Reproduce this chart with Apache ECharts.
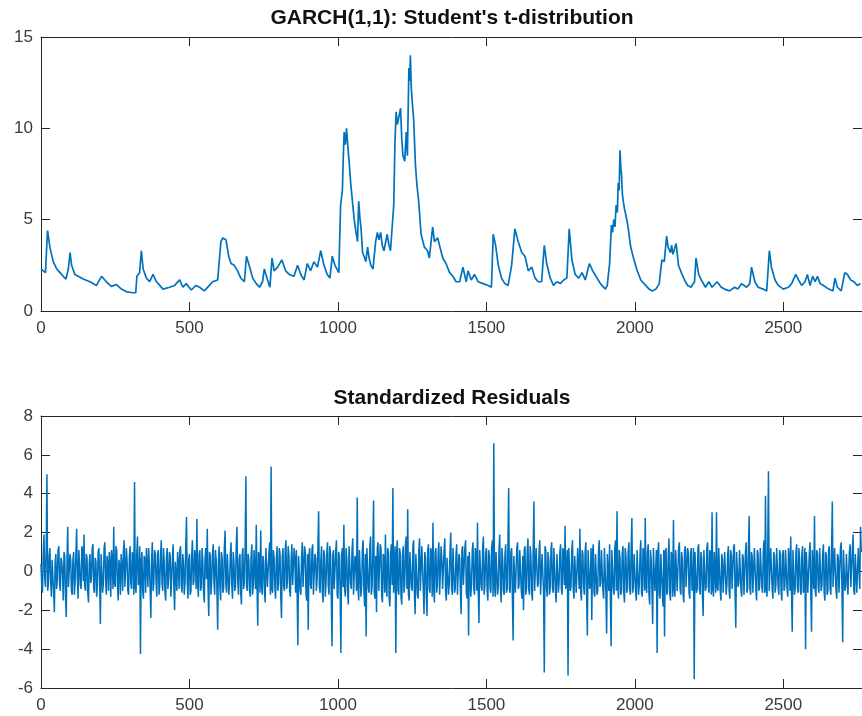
<!DOCTYPE html>
<html>
<head>
<meta charset="utf-8">
<title>GARCH(1,1): Student's t-distribution</title>
<script src="https://cdn.jsdelivr.net/npm/echarts@6/dist/echarts.min.js"></script>
<style>
  html, body { margin: 0; padding: 0; background: #ffffff; }
  #chart { width: 862px; height: 716px; }
</style>
</head>
<body>
<div id="chart"></div>
<script>
// Conditional volatility (sigma_t) of the fitted GARCH(1,1) model, sampled along the observation index
const volIndex = [
  0, 8, 15, 22, 30, 41, 53, 64, 75, 84, 92, 98, 103, 114, 125, 142, 165, 187, 204, 220,
  237, 254, 271, 288, 310, 319, 323, 332, 338, 344, 355, 366, 377, 389, 400, 411, 433, 450, 467, 478,
  489, 506, 522, 534, 550, 567, 578, 595, 606, 612, 623, 632, 640, 651, 662, 673, 685, 692, 701, 713,
  725, 736, 746, 752, 763, 771, 778, 785, 797, 811, 824, 836, 852, 864, 875, 886, 897, 908, 919, 931,
  942, 953, 964, 973, 981, 990, 1003, 1009, 1015, 1018, 1021, 1025, 1029, 1032, 1035, 1039, 1043, 1050, 1055, 1060,
  1066, 1070, 1074, 1078, 1083, 1088, 1094, 1100, 1105, 1111, 1118, 1127, 1133, 1138, 1144, 1149, 1155, 1160, 1166, 1172,
  1177, 1183, 1188, 1192, 1196, 1200, 1205, 1211, 1215, 1219, 1225, 1230, 1234, 1237, 1239, 1242, 1244, 1247, 1250, 1255,
  1261, 1266, 1272, 1280, 1291, 1302, 1308, 1319, 1325, 1336, 1342, 1353, 1364, 1376, 1387, 1398, 1410, 1421, 1432, 1438,
  1449, 1460, 1472, 1489, 1506, 1517, 1523, 1531, 1540, 1551, 1562, 1573, 1585, 1596, 1607, 1619, 1630, 1641, 1653, 1664,
  1675, 1686, 1695, 1703, 1715, 1726, 1737, 1749, 1760, 1771, 1779, 1788, 1799, 1811, 1822, 1833, 1847, 1858, 1869, 1884,
  1901, 1907, 1915, 1921, 1925, 1929, 1933, 1937, 1941, 1944, 1947, 1950, 1953, 1955, 1958, 1961, 1965, 1969, 1974, 1978,
  1986, 1997, 2008, 2020, 2031, 2048, 2059, 2071, 2082, 2091, 2099, 2103, 2107, 2112, 2116, 2120, 2124, 2128, 2133, 2139,
  2147, 2159, 2170, 2178, 2189, 2201, 2206, 2215, 2227, 2238, 2249, 2260, 2277, 2291, 2302, 2319, 2336, 2347, 2359, 2376,
  2387, 2393, 2404, 2415, 2432, 2444, 2453, 2460, 2472, 2483, 2500, 2517, 2528, 2542, 2551, 2562, 2573, 2581, 2590, 2599,
  2607, 2615, 2624, 2635, 2653, 2667, 2674, 2682, 2695, 2707, 2716, 2727, 2738, 2749, 2760
];
const volValue = [
  2.3, 2.2, 2.1, 4.4, 3.5, 2.7, 2.3, 2.1, 1.9, 1.75, 2.3, 3.2, 2.5, 2.0, 1.9, 1.75, 1.6, 1.4, 1.9, 1.6,
  1.35, 1.45, 1.2, 1.05, 1.0, 1.0, 1.9, 2.1, 3.3, 2.3, 1.8, 1.6, 2.0, 1.6, 1.4, 1.2, 1.3, 1.4, 1.7, 1.3,
  1.5, 1.15, 1.4, 1.3, 1.1, 1.4, 1.6, 1.7, 3.8, 4.0, 3.9, 3.0, 2.6, 2.5, 2.2, 1.8, 1.6, 3.0, 2.5, 1.8,
  1.5, 1.3, 1.6, 2.3, 1.7, 1.3, 2.9, 2.2, 2.4, 2.8, 2.2, 2.0, 1.9, 2.5, 2.0, 1.7, 2.6, 2.2, 2.7, 2.4,
  3.3, 2.5, 2.0, 1.8, 3.0, 2.5, 2.1, 5.8, 6.6, 8.4, 9.8, 9.1, 10.0, 9.3, 8.7, 7.9, 7.0, 5.8, 5.0, 4.4,
  3.8, 6.0, 5.1, 4.5, 3.2, 3.0, 2.7, 3.5, 2.9, 2.5, 2.3, 3.8, 4.3, 3.9, 4.3, 3.6, 3.3, 3.3, 4.2, 3.6,
  3.3, 3.3, 5.8, 9.2, 10.9, 10.2, 10.6, 11.1, 9.4, 8.5, 8.2, 9.8, 8.5, 11.4, 13.3, 12.6, 14.0, 12.2, 11.5, 10.5,
  8.0, 6.9, 6.0, 4.2, 3.5, 3.3, 2.9, 4.6, 3.8, 4.0, 3.6, 2.9, 2.6, 2.1, 1.9, 1.6, 1.6, 2.4, 1.6, 2.2,
  1.7, 2.0, 1.6, 1.5, 1.4, 1.3, 4.2, 3.6, 2.5, 1.8, 1.5, 1.4, 2.5, 4.5, 3.8, 3.2, 3.0, 2.2, 2.4, 1.8,
  1.6, 1.6, 3.6, 2.6, 1.8, 1.4, 1.6, 1.5, 1.7, 1.8, 4.5, 2.8, 2.0, 1.8, 2.1, 1.7, 2.6, 2.2, 1.9, 1.5,
  1.2, 1.4, 2.6, 4.7, 4.3, 5.0, 4.6, 5.8, 5.4, 7.0, 6.6, 8.8, 7.8, 7.5, 6.4, 6.0, 5.6, 5.3, 4.9, 4.5,
  3.5, 2.8, 2.2, 1.7, 1.5, 1.2, 1.1, 1.2, 1.5, 2.8, 2.7, 3.4, 4.1, 3.5, 3.5, 3.2, 3.6, 3.1, 3.0, 3.7,
  2.5, 2.0, 1.6, 1.4, 1.3, 1.6, 2.9, 2.0, 1.6, 1.3, 1.6, 1.3, 1.6, 1.3, 1.2, 1.1, 1.3, 1.2, 1.5, 1.3,
  1.5, 2.4, 1.6, 1.3, 1.2, 1.1, 3.3, 2.4, 1.7, 1.4, 1.2, 1.3, 1.5, 2.0, 1.7, 1.4, 1.6, 2.0, 1.4, 1.9,
  1.6, 1.9, 1.5, 1.4, 1.2, 1.1, 1.8, 1.3, 1.1, 2.1, 2.0, 1.7, 1.6, 1.4, 1.5
];

// Standardized residuals: observations at index k*residStep ...
const residStep = 5;
const residuals = [
  0.4, -1.1, 1.9, -0.8, 5.0, -0.6, 1.2, -1.3, 0.7, -2.1, 0.9, -0.4, 1.3, -1.0, 0.5, -1.5, 0.8, -2.35, 2.3, -0.9,
  0.6, -1.2, 1.0, -0.5, 2.2, -1.4, 0.3, -0.9, 1.1, 1.9, -1.0, 0.7, -1.6, 0.9, -0.3, 1.4, -1.1, 0.5, -0.7, 1.2,
  -2.7, 0.8, -0.6, 1.5, -1.2, 0.4, 1.0, -1.3, 0.6, 2.3, -0.8, 1.1, -1.5, 0.3, 0.9, -1.0, 1.6, -0.7, 0.5, -1.2,
  1.3, -0.9, 0.7, 4.6, -1.1, 1.8, -0.5, -4.25, 1.0, -1.4, 0.6, 1.2, -0.8, 0.4, -2.4, 1.5, -0.6, 0.9, -1.3, 1.1,
  -0.7, 1.6, -1.0, 0.5, -1.5, 1.2, -0.3, 0.8, -1.2, 1.4, -2.0, 0.6, 1.0, -0.9, 1.3, -1.1, 0.4, -0.6, 2.8, -1.4,
  0.9, -1.0, 1.6, -0.5, 0.7, 2.7, -1.3, 1.1, -0.8, 0.5, -1.6, 1.2, 2.2, -2.3, 0.8, -0.4, 1.4, -1.2, 0.6, -3.0,
  1.3, -1.5, 0.7, -0.9, 2.1, -1.1, 1.0, -0.6, 1.5, -1.4, 0.4, -0.8, 2.3, -1.2, 0.9, -1.7, 1.2, -0.5, 4.9, -1.0,
  0.6, -1.3, 1.4, -0.7, 1.0, 2.4, -2.8, 0.8, 2.1, -1.2, 0.5, -1.6, 1.1, -0.9, 1.5, 5.4, -1.1, 0.7, -1.4, 1.3,
  -0.6, 0.9, -2.4, 1.2, -1.0, 1.6, -0.5, 0.8, -1.3, 1.4, -0.8, 0.6, 1.1, -3.8, 0.9, -1.2, 1.5, -0.7, 1.0, -1.5,
  -3.0, 1.2, -0.9, 1.4, -1.3, 0.7, -0.4, 3.1, -1.1, 1.3, -1.6, 0.8, -0.6, 1.5, -1.2, 0.9, -3.85, 1.1, -0.8, 1.6,
  -1.4, 0.8, -4.2, 1.2, 2.4, -1.3, 0.6, -1.7, 1.4, -0.9, 1.7, -1.2, 0.5, 3.8, -1.5, 1.1, -0.7, 1.6, -1.8, -3.35,
  1.3, -1.1, 1.8, -0.8, 3.65, -1.4, -2.1, 1.5, -0.9, 1.2, -1.6, 0.7, 1.9, -1.3, 1.0, -1.8, 1.4, 4.3, -1.0, -4.2,
  1.6, -1.2, 0.9, -1.7, 1.3, -0.6, 1.8, 3.2, -1.5, 1.1, -1.0, 1.6, -2.2, 0.8, -1.4, 1.7, -0.9, 1.2, -2.2, 0.7,
  -2.3, 1.4, -1.1, 0.9, 2.5, -1.6, 1.2, -0.7, 1.5, -1.3, 0.6, -1.0, 1.7, -1.5, 0.8, -0.6, 2.0, -1.2, 1.1, -0.9,
  1.4, -1.1, 0.7, -2.2, 1.3, -0.8, 1.6, -1.4, -3.3, 1.0, -0.6, 1.5, -1.2, 0.9, 2.5, -2.65, 1.1, -1.0, 1.8, -0.7,
  1.2, -1.5, 0.8, -1.1, 1.6, 6.6, -1.3, 1.0, -0.8, 1.9, -1.6, 0.6, -1.2, 1.4, -0.9, 4.3, -1.1, 1.2, -3.55, 0.9,
  -1.0, 1.5, -0.7, 1.1, -1.4, -2.0, 1.3, -0.9, 1.7, -1.2, 0.8, -1.5, 3.6, -1.1, 1.2, -0.6, 1.6, -1.3, 0.9, -5.2,
  1.1, -1.3, 0.6, -0.9, 1.5, -1.1, 1.2, -1.6, 0.8, -0.5, 1.4, -1.2, 1.0, 2.35, -1.0, -5.35, 1.3, -0.8, 1.6, -1.4,
  0.7, -1.1, 1.3, 2.2, -1.5, 0.9, -1.2, 1.5, -3.3, 1.0, -0.7, -2.5, 1.4, -1.3, 0.8, -1.0, 1.6, -0.6, 1.1, -1.4,
  1.2, -3.2, 0.9, 1.4, -3.85, 1.1, -1.2, 1.6, 3.1, -1.4, 0.7, -1.0, 1.3, -1.6, 0.8, -0.9, 1.5, -1.2, 2.75, -0.8,
  1.0, -1.5, 1.2, -0.7, 1.6, -1.3, 0.9, 2.75, -1.1, 1.4, -1.7, 0.6, -2.7, 1.3, -0.9, -4.2, 1.5, -1.4, 1.0, -1.8,
  -3.35, 1.2, -1.0, 1.7, -1.5, 0.8, 2.65, -1.3, 1.1, -0.9, 1.5, -1.2, 0.6, -1.6, 1.3, -0.7, 1.0, -1.4, 1.2, -0.8,
  -5.55, 1.1, -0.9, 1.4, -1.2, 0.7, -2.3, 1.2, -0.8, 1.5, -1.1, 0.9, 3.05, -1.3, 1.0, 3.05, -1.0, 1.3, -1.5, 0.6,
  -1.2, 1.1, -0.7, 1.3, -1.4, 0.8, -1.0, 1.4, -2.9, 1.0, -0.6, 1.2, -1.3, 0.7, -1.1, 1.5, -0.9, 2.85, -1.2, 0.8,
  -1.0, 1.3, -1.5, 0.9, -0.8, 1.2, -1.1, 1.6, 3.9, -1.3, 5.15, -1.0, 1.1, -1.4, 0.8, -0.7, 1.3, -1.2, 0.9, -1.5,
  1.1, -0.8, 1.2, -1.3, 0.7, 1.8, -3.1, 1.0, -0.9, 1.4, -1.1, 0.6, -1.2, 1.3, -0.8, -4.0, 1.1, -1.0, 1.5, -3.1,
  1.0, 2.85, -1.3, 0.9, -1.1, 1.2, -0.7, 1.4, -1.5, 0.8, -1.0, 1.3, -1.2, 3.6, -0.9, 1.1, -1.4, 0.7, -1.1, 1.5,
  -3.65, 1.2, -0.8, 1.0, -1.3, 1.4, -0.9, 1.9, -1.2, 0.8, -1.0, 1.2, 2.3
];
// ... and the observations halfway between them, at index k*residStep + residStep/2
const residualsMid = [
  -0.7, 0.9, -0.3, 1.2, -1.0, 0.8, -0.5, 0.6, -1.1, 0.4, -0.9, 1.1, -0.6, 0.7, -0.2, 1.0, -1.3, 0.5, -0.8, 0.9,
  -1.0, 0.6, -1.2, 0.8, -0.4, 1.1, -0.7, 1.3, -0.5, -0.8, 0.9, -1.1, 0.4, -0.6, 1.2, -0.9, 0.7, -1.3, 1.0, -0.5,
  0.9, -1.1, 1.2, -0.4, 0.8, -1.0, 0.5, 1.1, -0.9, -0.6, 1.3, -0.7, 0.6, -1.2, 0.3, 1.0, -0.8, 1.2, -1.0, 0.7,
  -0.6, 1.0, -1.2, -0.8, 0.9, -0.7, 1.3, 0.5, -1.0, 0.8, -1.1, 0.4, 1.2, -0.9, 0.6, -1.0, 1.1, -0.5, 0.9, -1.2,
  0.8, -0.6, 1.2, -1.1, 0.7, -0.9, 1.0, -1.3, 0.6, -0.8, 0.5, -1.0, 0.4, 1.1, -0.7, 0.9, -1.2, 1.3, -0.5, 0.6,
  -1.2, 0.8, -0.7, 1.1, -0.9, -0.6, 0.9, -1.0, 1.2, -1.1, 0.7, -0.4, -0.8, 1.0, -1.2, 0.9, -0.6, 1.1, -0.9, 0.5,
  -0.8, 1.0, -1.1, 1.2, -0.6, 0.9, -1.2, 0.8, -0.7, 1.0, -1.0, 1.3, -0.5, 0.6, -1.1, 0.8, -0.9, 1.2, -0.8, 0.9,
  -1.0, 0.7, -1.2, 1.1, -0.9, -0.7, 1.0, -1.1, -0.6, 0.8, -1.0, 1.2, -0.8, 0.9, -1.2, -0.9, 1.1, -0.8, 0.6, -1.0,
  1.2, -1.3, 0.7, -0.8, 1.1, -0.9, 1.3, -1.0, 0.6, -0.7, 1.2, -1.1, -0.9, 0.8, -1.0, 0.7, -0.8, 1.3, -1.2, 0.9,
  0.8, -0.7, 1.1, -1.2, 0.9, -1.0, 1.2, -0.8, 0.6, -1.0, 1.1, -1.3, 0.9, -0.7, 1.3, -1.1, 0.8, -0.9, 1.0, -1.2,
  1.0, -1.1, 0.9, -0.8, -0.9, 1.2, -1.0, 1.3, -0.6, 1.1, -1.2, 0.8, -1.0, -0.8, 1.1, -1.3, 1.2, -1.0, 0.9, 1.2,
  -0.9, 1.3, -1.2, 1.0, -1.1, 0.8, 1.2, -1.0, 1.4, -1.3, 0.9, -1.1, -0.8, 1.2, -1.4, 0.9, -0.7, -1.1, 1.3, 0.9,
  -1.0, 1.2, -1.3, 0.8, -1.1, 1.4, -0.9, -1.2, 1.0, -0.8, 1.3, -1.1, 0.9, -1.2, 1.1, -1.0, 1.3, -0.9, 1.0, -1.2,
  1.1, -0.9, 1.2, -1.3, -0.8, 1.0, -1.1, 0.9, -1.2, 1.3, -0.9, 1.1, -1.0, 0.7, -1.2, 1.0, -0.8, 1.2, -1.1, 0.8,
  -1.2, 0.9, -1.0, 1.1, -0.7, 1.2, -1.1, 0.8, 1.0, -1.3, 1.1, -0.9, 1.2, -1.0, -0.9, 1.1, -0.8, 1.3, -1.2, 0.9,
  -1.0, 1.1, -0.9, 1.2, -1.3, -0.8, 1.0, -1.2, 1.1, -0.9, 1.2, -1.0, 0.8, -1.1, 1.3, -0.9, 1.0, -1.2, 0.8, -1.1,
  1.2, -0.9, 1.1, -1.0, 0.8, 1.1, -1.2, 1.0, -0.9, 1.3, -1.1, 0.9, -1.0, 1.2, -0.8, 1.1, -1.2, 0.9, -1.0, 1.3,
  -0.9, 1.0, -1.2, 1.1, -0.8, 1.2, -1.0, 0.9, -1.1, 1.0, -0.9, 1.2, -0.7, -0.9, 1.1, 1.2, -1.0, 1.1, -0.9, 0.8,
  -1.1, 1.2, -0.9, -1.0, 1.1, -0.8, 1.0, -1.2, 1.1, -0.9, 1.2, 1.0, -1.1, 0.9, -1.2, 1.0, -0.8, 1.1, -1.0, 1.2,
  -1.1, 0.9, -1.0, -1.2, 1.1, -0.9, 1.2, -1.0, -0.8, 1.1, -1.2, 0.9, -1.0, 1.2, -1.1, 1.0, -0.9, 1.2, -1.1, 0.9,
  -1.0, 1.1, -1.2, 0.9, -1.1, 1.2, -1.0, -0.8, 1.0, -1.2, 1.1, -0.9, 1.2, -1.0, 1.1, 1.0, -1.2, 0.9, -1.0, 1.1,
  1.0, -1.2, 0.9, -1.1, 1.0, -1.3, -0.9, 1.1, -1.0, 1.2, -0.9, 1.0, -1.2, 1.1, -0.8, 1.2, -1.1, 0.9, -1.0, 1.2,
  1.0, -1.1, 1.2, -0.9, 1.0, -1.2, 1.1, -1.0, 1.2, -0.8, 1.1, -1.2, -0.9, 1.0, -1.1, -0.8, 1.2, -1.0, 0.9, -1.1,
  1.0, -1.2, 0.8, -1.0, 1.1, -0.9, 1.2, -1.1, 1.0, -0.8, 1.1, -1.0, 0.9, -1.2, 1.0, -1.1, 1.2, -0.9, 1.0, -1.1,
  1.2, -0.9, 1.1, -1.0, 1.2, -0.8, 1.0, -1.1, -0.9, 1.1, -1.0, 1.2, -0.9, 1.0, -1.1, 1.2, -0.8, 1.1, -1.0, 0.9,
  -1.0, 1.1, -0.9, 1.2, -1.0, -0.9, 1.1, -1.2, 1.0, -0.8, 1.2, -1.0, 0.9, -1.1, 1.2, 1.0, -1.1, 0.9, -1.0, 1.1,
  -0.9, -1.0, 1.1, -0.8, 1.2, -1.0, 0.9, -1.1, 1.0, -1.2, 1.1, -0.9, 1.0, -0.8, 1.2, -1.0, 0.9, -1.1, 1.2, -0.9,
  1.1, -1.0, 0.9, -1.2, 1.0, -0.8, 1.1, -1.0, 0.9, -1.1, 1.2, -0.9, 1.0
];

// Axis ranges and tick spacing
const xLimit = [0, 2765];
const xTickStep = 500;
const volLimit = [0, 15];
const volTickStep = 5;
const residLimit = [-6, 8];
const residTickStep = 2;

const titles = ["GARCH(1,1): Student's t-distribution", 'Standardized Residuals'];

const LINE_BLUE = '#0072BD';
const AXIS_GRAY = '#262626';
const FONT = '"Liberation Sans", Arial, Helvetica, sans-serif';

const volData = volIndex.map((x, i) => [x, volValue[i]]);
const residData = [];
residuals.forEach((v, k) => {
  residData.push([k * residStep, v]);
  residData.push([k * residStep + residStep / 2, residualsMid[k]]);
});

function xAxisPair(gridIndex) {
  const common = {
    type: 'value', gridIndex, min: xLimit[0], max: xLimit[1], interval: xTickStep,
    splitLine: { show: false },
    axisLine: { show: true, onZero: false, lineStyle: { color: AXIS_GRAY, width: 1 } },
    axisTick: { show: true, inside: true, length: 9, lineStyle: { color: AXIS_GRAY, width: 1 } }
  };
  return [
    Object.assign({}, common, {
      position: 'bottom',
      axisLabel: {
        show: true, margin: 9, color: '#3a3a3a', fontSize: 17, fontFamily: FONT,
        showMaxLabel: false, formatter: v => String(v)
      }
    }),
    Object.assign({}, common, { position: 'top', axisLabel: { show: false } })
  ];
}

function yAxisPair(gridIndex, lim, step) {
  const common = {
    type: 'value', gridIndex, min: lim[0], max: lim[1], interval: step,
    splitLine: { show: false },
    axisLine: { show: true, onZero: false, lineStyle: { color: AXIS_GRAY, width: 1 } },
    axisTick: { show: true, inside: true, length: 9, lineStyle: { color: AXIS_GRAY, width: 1 } }
  };
  return [
    Object.assign({}, common, {
      position: 'left',
      axisLabel: { show: true, margin: 8, color: '#3a3a3a', fontSize: 17, fontFamily: FONT, formatter: v => String(v) }
    }),
    Object.assign({}, common, { position: 'right', axisLabel: { show: false } })
  ];
}

const chart = echarts.init(document.getElementById('chart'), null, { renderer: 'canvas' });

chart.setOption({
  animation: false,
  backgroundColor: '#ffffff',
  graphic: [
    { type: 'text', x: 452, y: 18, style: { text: titles[0], align: 'center', verticalAlign: 'middle', font: 'bold 21px ' + FONT, fill: '#111111' } },
    { type: 'text', x: 452, y: 398, style: { text: titles[1], align: 'center', verticalAlign: 'middle', font: 'bold 21px ' + FONT, fill: '#111111' } }
  ],
  grid: [
    { left: 41, top: 37, width: 822, height: 274 },
    { left: 41, top: 416, width: 822, height: 272 }
  ],
  xAxis: [].concat(xAxisPair(0), xAxisPair(1)),
  yAxis: [].concat(yAxisPair(0, volLimit, volTickStep), yAxisPair(1, residLimit, residTickStep)),
  series: [
    {
      type: 'line', xAxisIndex: 0, yAxisIndex: 0, data: volData,
      showSymbol: false, symbol: 'none', silent: true,
      lineStyle: { color: LINE_BLUE, width: 1.7 }
    },
    {
      type: 'line', xAxisIndex: 2, yAxisIndex: 2, data: residData,
      showSymbol: false, symbol: 'none', silent: true, sampling: null,
      lineStyle: { color: LINE_BLUE, width: 1.5 }
    }
  ]
});
</script>
</body>
</html>
